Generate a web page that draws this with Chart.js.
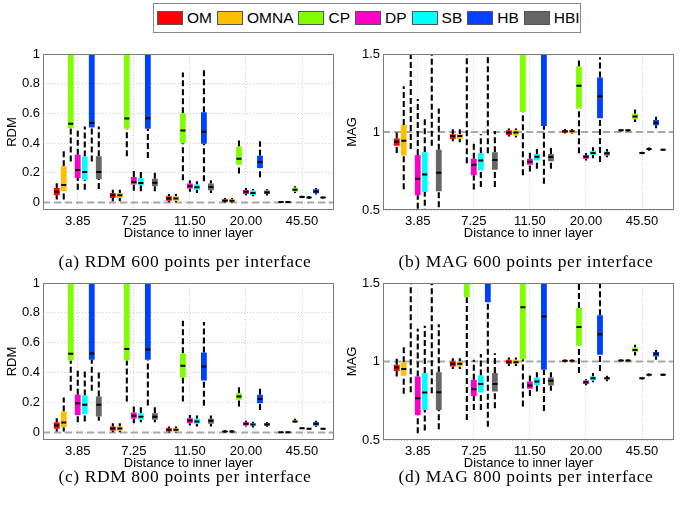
<!DOCTYPE html>
<html>
<head>
<meta charset="utf-8">
<script src="https://cdn.jsdelivr.net/npm/chart.js@4.4.1/dist/chart.umd.min.js"></script>
<style>
  body { margin: 0; background: #fff; }
  #page { position: relative; width: 685px; height: 507px; overflow: hidden; }
  canvas { position: absolute; }
  #legend { position: absolute; left: 153px; top: 3px; width: 428px; height: 30px; box-sizing: border-box;
            border: 1px solid #8a8a8a; display: flex; align-items: center; padding-left: 3px;
            font: 15.5px "Liberation Sans", Arial, sans-serif; color: #000; }
  .item { display: flex; align-items: center; margin-right: 5px; }
  .sw { width: 26px; height: 14px; border: 1px solid #555; box-sizing: border-box; margin-right: 4px; }
  .cap { position: absolute; width: 340px; text-align: center; font: 17.5px "Liberation Serif", serif; letter-spacing: 0.6px; color: #000; }
</style>
</head>
<body>
<div id="page">
  <div id="legend"></div>
  <canvas id="rdm600" width="340" height="211" style="left:0;top:30px"></canvas>
  <canvas id="mag600" width="340" height="211" style="left:340px;top:30px"></canvas>
  <canvas id="rdm800" width="340" height="212" style="left:0;top:259px"></canvas>
  <canvas id="mag800" width="340" height="212" style="left:340px;top:259px"></canvas>
  <div class="cap" style="left:15px;top:251px">(a) RDM 600 points per interface</div>
  <div class="cap" style="left:356px;top:251px">(b) MAG 600 points per interface</div>
  <div class="cap" style="left:15px;top:466px">(c) RDM 800 points per interface</div>
  <div class="cap" style="left:356px;top:466px">(d) MAG 800 points per interface</div>
</div>
<script>
// --- data ---
const xLabels = ['3.85', '7.25', '11.50', '20.00', '45.50'];
const methods = ['OM', 'OMNA', 'CP', 'DP', 'SB', 'HB', 'HBI'];
const colors = ['#ff0000', '#ffbf00', '#80ff00', '#ff00c8', '#00ffff', '#0040ff', '#666666'];
const rdmTicks = [0, 0.2, 0.4, 0.6, 0.8, 1];
const magTicks = [0.5, 1, 1.5];

// each row = one distance: [lower whisker, q1, median, q3, upper whisker]
// (a) RDM 600
const rdm600OM   = [[0.02, 0.049, 0.072, 0.098, 0.13], [0.009, 0.031, 0.049, 0.065, 0.087], [0.002, 0.013, 0.027, 0.043, 0.058], [0, 0.005, 0.013, 0.022, 0.03], [0, 0.002, 0.004, 0.006, 0.008]];
const rdm600OMNA = [[0.02, 0.076, 0.119, 0.244, 0.356], [0.009, 0.031, 0.049, 0.065, 0.087], [0.002, 0.013, 0.027, 0.043, 0.058], [0, 0.005, 0.013, 0.022, 0.03], [0, 0.002, 0.004, 0.006, 0.008]];
const rdm600CP   = [[0.277, 0.5, 0.53, 1.2, 1.6], [0.311, 0.497, 0.566, 1.2, 1.6], [0.15, 0.4, 0.485, 0.602, 0.875], [0.195, 0.255, 0.295, 0.378, 0.418], [0.065, 0.074, 0.087, 0.1, 0.11]];
const rdm600DP   = [[0.087, 0.166, 0.219, 0.322, 0.494], [0.08, 0.121, 0.139, 0.172, 0.233], [0.072, 0.094, 0.11, 0.128, 0.15], [0.049, 0.058, 0.072, 0.085, 0.098], [0.03, 0.035, 0.038, 0.042, 0.046]];
const rdm600SB   = [[0.087, 0.154, 0.206, 0.31, 0.512], [0.076, 0.116, 0.132, 0.166, 0.221], [0.065, 0.087, 0.103, 0.121, 0.143], [0.043, 0.051, 0.065, 0.081, 0.092], [0.026, 0.031, 0.034, 0.038, 0.042]];
const rdm600HB   = [[0.277, 0.505, 0.535, 1.2, 1.6], [0.3, 0.497, 0.568, 1.2, 1.6], [0.143, 0.396, 0.476, 0.608, 0.897], [0.17, 0.233, 0.273, 0.315, 0.412], [0.054, 0.062, 0.075, 0.09, 0.098]];
const rdm600HBI  = [[0.092, 0.159, 0.206, 0.311, 0.512], [0.076, 0.11, 0.134, 0.161, 0.215], [0.065, 0.083, 0.105, 0.128, 0.15], [0.047, 0.058, 0.067, 0.081, 0.09], [0.028, 0.031, 0.034, 0.037, 0.04]];

// (b) MAG 600
const mag600OM   = [[0.866, 0.912, 0.938, 0.959, 1.007], [0.94, 0.955, 0.974, 0.986, 1.018], [0.971, 0.98, 0.997, 1.012, 1.022], [0.99, 0.995, 1.005, 1.012, 1.02], [1.004, 1.008, 1.012, 1.015, 1.018]];
const mag600OMNA = [[0.633, 0.849, 0.944, 1.045, 1.293], [0.935, 0.955, 0.974, 0.986, 1.018], [0.965, 0.978, 0.997, 1.012, 1.022], [0.99, 0.995, 1.005, 1.012, 1.02], [1.004, 1.008, 1.012, 1.015, 1.018]];
const mag600CP   = [[0.891, 1.6, 1.8, 2.0, 2.5], [0.8, 1.6, 1.8, 2.0, 2.5], [0.722, 1.128, 1.6, 1.9, 2.3], [0.864, 1.151, 1.297, 1.42, 1.475], [1.064, 1.081, 1.1, 1.117, 1.145]];
const mag600DP   = [[0.45, 0.595, 0.7, 0.853, 1.212], [0.631, 0.722, 0.79, 0.828, 0.938], [0.747, 0.79, 0.81, 0.828, 0.87], [0.817, 0.828, 0.842, 0.853, 0.866], [0.858, 0.862, 0.866, 0.87, 0.874]];
const mag600SB   = [[0.47, 0.616, 0.728, 0.87, 1.098], [0.648, 0.754, 0.817, 0.864, 0.986], [0.764, 0.817, 0.842, 0.859, 0.891], [0.832, 0.853, 0.866, 0.878, 0.902], [0.88, 0.886, 0.891, 0.896, 0.9]];
const mag600HB   = [[0.912, 1.6, 1.8, 2.0, 2.5], [0.864, 1.6, 1.8, 2.0, 2.5], [0.669, 1.039, 1.55, 1.9, 2.3], [0.807, 1.088, 1.229, 1.35, 1.479], [1.024, 1.043, 1.06, 1.077, 1.098]];
const mag600HBI  = [[0.517, 0.62, 0.739, 0.887, 1.151], [0.648, 0.758, 0.821, 0.87, 1.007], [0.764, 0.813, 0.84, 0.859, 0.9], [0.838, 0.849, 0.864, 0.874, 0.891], [0.881, 0.884, 0.887, 0.89, 0.893]];

// (c) RDM 800
const rdm800OM   = [[0.007, 0.025, 0.047, 0.069, 0.096], [0.002, 0.013, 0.027, 0.04, 0.062], [0, 0.007, 0.018, 0.029, 0.04], [0, 0.003, 0.007, 0.011, 0.015], [0, 0, 0.001, 0.003, 0.004]];
const rdm800OMNA = [[0.007, 0.036, 0.067, 0.141, 0.234], [0.002, 0.013, 0.027, 0.04, 0.062], [0, 0.007, 0.018, 0.029, 0.04], [0, 0.003, 0.007, 0.011, 0.015], [0, 0, 0.001, 0.003, 0.004]];
const rdm800CP   = [[0.279, 0.482, 0.527, 1.2, 1.6], [0.208, 0.482, 0.558, 1.2, 1.6], [0.208, 0.368, 0.446, 0.531, 0.748], [0.174, 0.219, 0.241, 0.263, 0.319], [0.065, 0.069, 0.074, 0.08, 0.092]];
const rdm800DP   = [[0.069, 0.118, 0.196, 0.252, 0.42], [0.062, 0.092, 0.112, 0.134, 0.174], [0.047, 0.062, 0.08, 0.096, 0.118], [0.04, 0.047, 0.058, 0.069, 0.078], [0.024, 0.027, 0.029, 0.031, 0.034]];
const rdm800SB   = [[0.074, 0.123, 0.185, 0.248, 0.413], [0.069, 0.085, 0.105, 0.129, 0.181], [0.04, 0.058, 0.074, 0.092, 0.114], [0.034, 0.043, 0.054, 0.063, 0.072], [0.02, 0.023, 0.025, 0.027, 0.03]];
const rdm800HB   = [[0.279, 0.487, 0.529, 1.2, 1.6], [0.181, 0.487, 0.556, 1.2, 1.6], [0.179, 0.348, 0.442, 0.536, 0.739], [0.15, 0.196, 0.225, 0.252, 0.304], [0.038, 0.047, 0.058, 0.069, 0.078]];
const rdm800HBI  = [[0.078, 0.107, 0.185, 0.241, 0.413], [0.069, 0.085, 0.105, 0.129, 0.179], [0.04, 0.058, 0.078, 0.092, 0.114], [0.038, 0.045, 0.054, 0.063, 0.07], [0.02, 0.023, 0.025, 0.027, 0.03]];

// (d) MAG 800
const mag800OM   = [[0.904, 0.94, 0.962, 0.979, 1.017], [0.953, 0.968, 0.985, 1.0, 1.021], [0.972, 0.985, 0.996, 1.011, 1.026], [0.995, 0.999, 1.004, 1.008, 1.012], [1.0, 1.003, 1.006, 1.009, 1.012]];
const mag800OMNA = [[0.794, 0.909, 0.953, 0.996, 1.096], [0.953, 0.968, 0.985, 1.0, 1.021], [0.972, 0.985, 0.996, 1.011, 1.026], [0.995, 0.999, 1.004, 1.008, 1.012], [1.0, 1.003, 1.006, 1.009, 1.012]];
const mag800CP   = [[0.804, 1.6, 1.8, 2.0, 2.5], [0.628, 1.409, 1.6, 1.9, 2.3], [0.713, 1.015, 1.345, 1.8, 2.3], [0.926, 1.1, 1.219, 1.34, 1.6], [1.038, 1.06, 1.074, 1.089, 1.106]];
const mag800DP   = [[0.543, 0.66, 0.766, 0.904, 1.209], [0.691, 0.781, 0.823, 0.883, 1.011], [0.781, 0.826, 0.847, 0.872, 0.926], [0.849, 0.857, 0.868, 0.879, 0.887], [0.886, 0.89, 0.894, 0.898, 0.9]];
const mag800SB   = [[0.56, 0.691, 0.802, 0.926, 1.228], [0.691, 0.802, 0.857, 0.911, 1.047], [0.809, 0.851, 0.872, 0.898, 0.932], [0.868, 0.879, 0.894, 0.904, 0.926], [0.906, 0.911, 0.915, 0.92, 0.924]];
const mag800HB   = [[0.798, 1.6, 1.8, 2.0, 2.5], [0.585, 1.377, 1.6, 1.9, 2.3], [0.685, 0.947, 1.287, 1.7, 2.2], [0.94, 1.043, 1.174, 1.294, 1.6], [1.011, 1.032, 1.049, 1.06, 1.074]];
const mag800HBI  = [[0.568, 0.691, 0.804, 0.932, 1.238], [0.702, 0.809, 0.857, 0.926, 1.053], [0.813, 0.847, 0.877, 0.898, 0.932], [0.875, 0.885, 0.894, 0.9, 0.91], [0.908, 0.912, 0.915, 0.918, 0.922]];

// --- layout constants ---
const xMin = 0.38, xMax = 5.57;
const slot = 0.125;      // spacing between boxes inside one group
const medHalf = 0.045;   // half width of the median tick
const tickFont = { family: '"Liberation Sans", Arial, sans-serif', size: 13 };

// legend
const legendEl = document.getElementById('legend');
methods.forEach((m, i) => {
  const it = document.createElement('div');
  it.className = 'item';
  it.innerHTML = `<span class="sw" style="background:${colors[i]}"></span><span>${m}</span>`;
  legendEl.appendChild(it);
});

// draws the grey axes box around the plot area
const frame = {
  id: 'frame',
  afterDatasetsDraw(chart) {
    const a = chart.chartArea, ctx = chart.ctx;
    ctx.save();
    ctx.strokeStyle = '#7a7a7a';
    ctx.lineWidth = 1;
    ctx.strokeRect(Math.round(a.left) + 0.5, Math.round(a.top) + 0.5,
                   Math.round(a.right - a.left) - 1, Math.round(a.bottom - a.top) - 1);
    ctx.restore();
  }
};

function buildDatasets(stats, refY) {
  const sets = [{
    data: [{ x: xMin, y: refY }, { x: xMax, y: refY }],
    borderColor: '#a8a8a8', borderWidth: 2, borderDash: [7, 4], order: 9, clip: 0
  }];
  stats.forEach((rows, m) => {
    const whisk = [], box = [], med = [];
    rows.forEach((r, g) => {
      const x = g + 1 + (m - 3) * slot;
      const [lo, q1, md, q3, hi] = r;
      whisk.push({ x, y: lo }, { x, y: q1 }, { x, y: null }, { x, y: q3 }, { x, y: hi }, { x, y: null });
      box.push({ x, y: q1 }, { x, y: q3 }, { x, y: null });
      med.push({ x: x - medHalf, y: md }, { x: x + medHalf, y: md }, { x: x + medHalf, y: null });
    });
    sets.push({ data: whisk, borderColor: '#000', borderWidth: 2.1, borderDash: [6, 3], order: 8, clip: 0 });
    sets.push({ data: box, borderColor: colors[m], borderWidth: 5.8, borderCapStyle: 'butt', order: 7, clip: 0 });
    sets.push({ data: med, borderColor: '#000', borderWidth: 2, order: 6, clip: 0 });
  });
  return sets;
}

function makePanel(id, stats, yMin, yMax, yTicks, refY, yTitle) {
  new Chart(document.getElementById(id), {
    type: 'line',
    data: { datasets: buildDatasets(stats, refY) },
    options: {
      responsive: false,
      animation: false,
      events: [],
      spanGaps: false,
      layout: { padding: { top: 24, right: 6, left: 0, bottom: 0 } },
      elements: { point: { radius: 0, hoverRadius: 0 }, line: { tension: 0, fill: false } },
      plugins: { legend: { display: false }, tooltip: { enabled: false } },
      scales: {
        x: {
          type: 'linear', min: xMin, max: xMax,
          afterBuildTicks: s => { s.ticks = xLabels.map((_, i) => ({ value: i + 1 })); },
          afterFit: s => { s.height = 31; },
          ticks: { callback: (v, i) => xLabels[i], font: tickFont, color: '#000', padding: 4, maxRotation: 0, autoSkip: false },
          grid: { color: '#cfcfcf', drawTicks: false },
          border: { display: false, dash: [1, 2] },
          title: { display: true, text: 'Distance to inner layer', font: tickFont, color: '#000', padding: 0 }
        },
        y: {
          type: 'linear', min: yMin, max: yMax,
          afterBuildTicks: s => { s.ticks = yTicks.map(v => ({ value: v })); },
          afterFit: s => { s.width = 43; },
          ticks: { callback: v => String(v), font: tickFont, color: '#000', padding: 3 },
          grid: { color: '#cfcfcf', drawTicks: false },
          border: { display: false, dash: [1, 2] },
          title: { display: true, text: yTitle, font: { family: tickFont.family, size: 13 }, color: '#000', padding: { top: 5, bottom: 0 } }
        }
      }
    },
    plugins: [frame]
  });
}

makePanel('rdm600', [rdm600OM, rdm600OMNA, rdm600CP, rdm600DP, rdm600SB, rdm600HB, rdm600HBI], -0.05, 1, rdmTicks, 0, 'RDM');
makePanel('mag600', [mag600OM, mag600OMNA, mag600CP, mag600DP, mag600SB, mag600HB, mag600HBI], 0.5, 1.5, magTicks, 1, 'MAG');
makePanel('rdm800', [rdm800OM, rdm800OMNA, rdm800CP, rdm800DP, rdm800SB, rdm800HB, rdm800HBI], -0.05, 1, rdmTicks, 0, 'RDM');
makePanel('mag800', [mag800OM, mag800OMNA, mag800CP, mag800DP, mag800SB, mag800HB, mag800HBI], 0.5, 1.5, magTicks, 1, 'MAG');
</script>
</body>
</html>
